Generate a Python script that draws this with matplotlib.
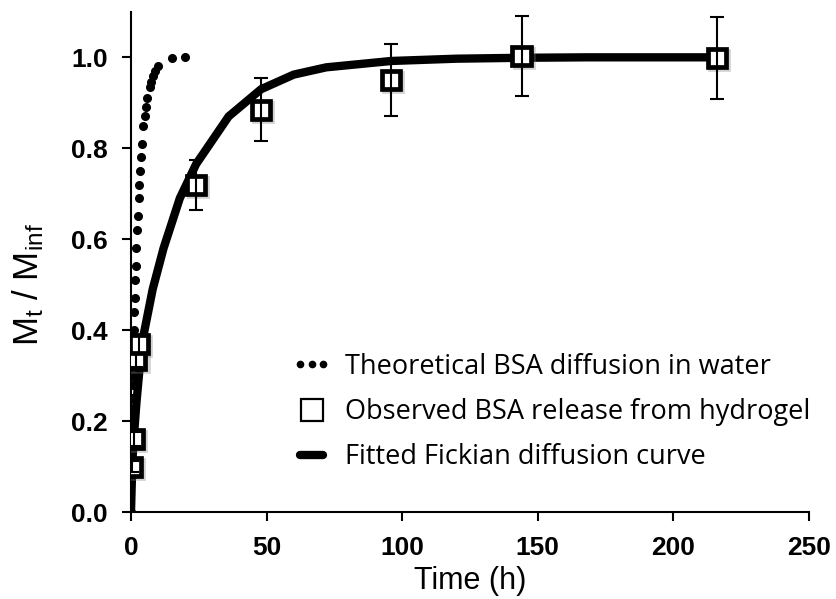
import matplotlib
matplotlib.use("Agg")
import matplotlib.pyplot as plt
import matplotlib.patheffects as pe
from matplotlib.lines import Line2D
from matplotlib.legend_handler import HandlerLine2D

# ---- data ----
theory_t = [0, 0.05, 0.1, 0.15, 0.2, 0.3, 0.4, 0.5, 0.6, 0.7, 0.8, 1.0, 1.1, 1.25, 1.4,
            1.6, 1.8, 2.0, 2.3, 2.5, 2.8, 3.0, 3.3, 3.6, 4.0, 4.5, 5.0, 5.5, 6.0, 7.0,
            7.5, 8.0, 9.0, 10.0, 15.0, 20.0]
theory_y = [0, 0.07, 0.10, 0.13, 0.15, 0.19, 0.22, 0.25, 0.28, 0.30, 0.33, 0.37, 0.40, 0.44, 0.47,
            0.51, 0.54, 0.58, 0.62, 0.65, 0.69, 0.72, 0.75, 0.78, 0.81, 0.85, 0.87, 0.89, 0.91, 0.935,
            0.945, 0.96, 0.97, 0.98, 0.998, 1.0]

obs_t = [0.5, 1, 2, 3, 24, 48, 96, 144, 216]
obs_y = [0.10, 0.16, 0.335, 0.37, 0.72, 0.885, 0.95, 1.003, 0.998]
obs_err = [0.012, 0.015, 0.015, 0.02, 0.055, 0.07, 0.08, 0.088, 0.09]

fit_t = [0, 0.5, 1, 2, 4, 8, 12, 18, 24, 36, 48, 60, 72, 96, 120, 144, 168, 192, 216]
fit_y = [0, 0.11, 0.16, 0.24, 0.37, 0.49, 0.58, 0.69, 0.765, 0.87, 0.93, 0.962, 0.978,
         0.992, 0.997, 0.999, 1.0, 1.0, 1.0]

x_ticks = [0, 50, 100, 150, 200, 250]
y_ticks = [0.0, 0.2, 0.4, 0.6, 0.8, 1.0]

labels = ["Theoretical BSA diffusion in water",
          "Observed BSA release from hydrogel",
          "Fitted Fickian diffusion curve"]

# ---- fonts ----
base = "Liberation Sans"
plt.rcParams["mathtext.fontset"] = "custom"
plt.rcParams["mathtext.rm"] = base
plt.rcParams["mathtext.it"] = base

fig = plt.figure(figsize=(8.37, 5.99), dpi=100)
ax = fig.add_axes([0.1565, 0.1452, 0.81, 0.835])

shadow = [pe.SimpleLineShadow(offset=(1.5, -1.5), shadow_color="gray", alpha=0.35), pe.Normal()]

ax.plot(theory_t, theory_y, linestyle="none", marker="o", markersize=5.5,
        color="black", zorder=3)
ax.plot(fit_t, fit_y, color="black", linewidth=6, solid_capstyle="round",
        solid_joinstyle="round", zorder=2)
ax.plot(obs_t, obs_y, linestyle="none", marker="s", markersize=13,
        markerfacecolor="white", markeredgecolor="black", markeredgewidth=3.4,
        zorder=4, path_effects=shadow)
ax.errorbar(obs_t, obs_y, yerr=obs_err, fmt="none", ecolor="black",
            elinewidth=1.5, capsize=5, capthick=1.5, zorder=5)

ax.set_xlim(0, 250)
ax.set_ylim(0, 1.1)
ax.set_xticks(x_ticks)
ax.set_yticks(y_ticks)
ax.set_xticklabels([str(v) for v in x_ticks], fontfamily=base,
                   fontweight="bold", fontsize=19)
ax.set_yticklabels([f"{v:.1f}" for v in y_ticks], fontfamily=base,
                   fontweight="bold", fontsize=19)

for s in ["top", "right"]:
    ax.spines[s].set_visible(False)
for s in ["left", "bottom"]:
    ax.spines[s].set_linewidth(1.5)
ax.tick_params(axis="both", direction="out", length=6.5, width=1.5)
ax.tick_params(axis="x", pad=11)
ax.tick_params(axis="y", pad=10)

ax.set_xlabel("Time (h)", fontfamily=base, fontsize=22, labelpad=4)
ax.set_ylabel(r"M$_\mathregular{t}$ / M$_\mathregular{inf}$", fontfamily=base,
              fontsize=25)
ax.yaxis.set_label_coords(-0.126, 0.454)

# legend
h0 = Line2D([], [], linestyle="none", marker="o", markersize=4.5, color="black")
h1 = Line2D([], [], linestyle="none", marker="s", markersize=16,
            markerfacecolor="white", markeredgecolor="black", markeredgewidth=1.6)
h2 = Line2D([], [], color="black", linewidth=6, solid_capstyle="round")
leg = ax.legend([h0, h1, h2], labels, loc="center left",
                bbox_to_anchor=(0.320, 0.312), bbox_transform=fig.transFigure,
                frameon=False, prop={"family": "Open Sans", "size": 19.5},
                handlelength=1.45, handletextpad=0.5, labelspacing=0.64,
                handler_map={h0: HandlerLine2D(numpoints=3),
                             h1: HandlerLine2D(numpoints=1),
                             h2: HandlerLine2D(numpoints=2)})
fig.savefig("out.png", dpi=100)
